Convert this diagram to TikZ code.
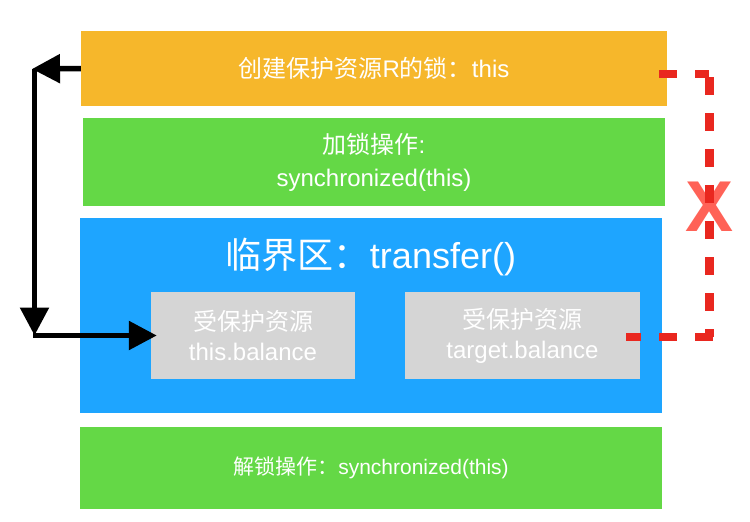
\documentclass[tikz,border=0pt]{standalone}
\usepackage{fontspec}
\setmainfont{Liberation Sans}
\newfontfamily\zhfont{Noto Sans CJK SC}
\usetikzlibrary{arrows.meta,positioning}
\definecolor{lockorange}{RGB}{246,183,43}
\definecolor{opgreen}{RGB}{100,216,70}
\definecolor{critblue}{RGB}{30,165,255}
\definecolor{resgray}{RGB}{213,213,213}
\definecolor{dashred}{RGB}{233,39,31}
\definecolor{crossred}{RGB}{255,98,87}

\begin{document}
\begin{tikzpicture}[x=1pt,y=-1pt,
  box/.style={inner sep=0pt,text=white,align=center},
  txt/.style={font=\fontsize{24}{33}\selectfont},
  blk/.style={line width=5.5pt,-{Triangle[length=28pt,width=28pt]}},
  nolink/.style={dashred,line width=8.5pt,dash pattern=on 18pt off 18pt}]
\useasboundingbox (0,0) rectangle (750,522);
% blocks, top to bottom
\node[box,txt,fill=lockorange,minimum width=586pt,minimum height=75pt] (lock) at (374,68.5)
  {{\zhfont 创建保护资源}R{\zhfont 的锁：}this};
\node[box,txt,fill=opgreen,minimum width=582pt,minimum height=88pt] (acquire) at (374,162)
  {{\zhfont 加锁操作}:\\synchronized(this)};
\node[box,fill=critblue,minimum width=582pt,minimum height=195pt] (crit) at (371,315.5) {};
\node[box,font=\fontsize{36}{36}\selectfont] (title) at (371,257) {{\zhfont 临界区：}transfer()};
\node[box,fill=resgray,minimum width=204pt,minimum height=87pt,font=\fontsize{24}{30}\selectfont] (this) at (253,335.5)
  {{\zhfont 受保护资源}\\this.balance};
\node[box,fill=resgray,minimum width=235pt,minimum height=87pt,font=\fontsize{24}{30}\selectfont] (target) at (522.5,335.5)
  {{\zhfont 受保护资源}\\target.balance};
\node[box,fill=opgreen,minimum width=582pt,minimum height=82pt,font=\fontsize{21}{21}\selectfont] (release) at (371,468)
  {{\zhfont 解锁操作：}synchronized(this)};
\node[text=crossred,inner sep=0pt,font=\bfseries\fontsize{72}{72}\selectfont] (cross) at (710,207) {X};
% lock guards this.balance
\coordinate (tl) at (34.5,69);
\coordinate (bl) at (34.5,335.5);
\draw[blk] (lock.west) -- ([xshift=-2.5pt]tl);
\draw[blk] (tl) -- (bl);
\draw[blk] ([xshift=-1.5pt]bl) -- ([xshift=6pt]this.west);
% but not target.balance
\coordinate (rt) at (709.5,74);
\coordinate (rc) at (709.5,337);
\draw[nolink] ([xshift=-8pt,yshift=-5.5pt]lock.east) -- ([xshift=-1pt]rt);
\draw[nolink] ([yshift=-3pt]rt) -- (rc);
\draw[nolink] ([xshift=3pt]rc) -- ([xshift=-14pt,yshift=-1.5pt]target.east);
\end{tikzpicture}
\end{document}
